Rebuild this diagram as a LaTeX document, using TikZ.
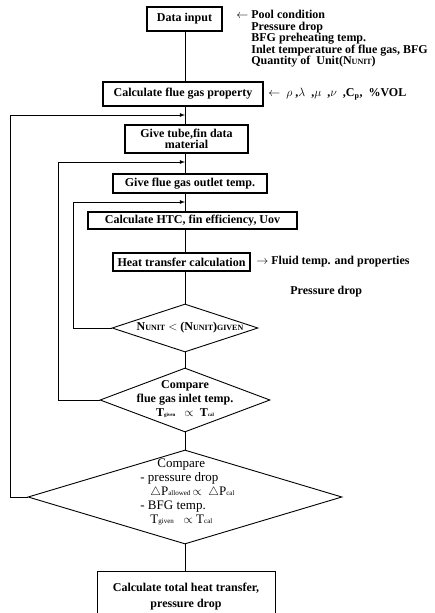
\documentclass[tikz,border=0pt]{standalone}
\usepackage{fontspec}
\setmainfont{Liberation Serif}
\usetikzlibrary{shapes.geometric}

\begin{document}
\begin{tikzpicture}[x=1pt,y=-1pt,line width=.8pt,
  every node/.style={font=\fontsize{12}{11.5}\selectfont\bfseries},
  box/.style={draw,line width=1.2pt,inner sep=1pt,align=center},
  dia/.style={draw,diamond,line width=.9pt,inner sep=0pt},
  side/.style={align=left,anchor=west,inner sep=0pt}]
\useasboundingbox (0,0) rectangle (434,613);
\coordinate (ax) at (185,0);
% main column
\node[box,minimum width=75,minimum height=24] (data) at (184.5,19) {Data input};
\node[box,minimum width=160,minimum height=24] (calc) at (183,94) {Calculate flue gas property};
\node[box,minimum width=123,minimum height=28,font=\fontsize{12}{10}\selectfont\bfseries] (tube) at (186.5,139) {Give tube,fin data\\material};
\node[box,minimum width=154,minimum height=19] (flue) at (190,183.5) {Give flue gas outlet temp.};
\node[box,minimum width=209,minimum height=17] (htc) at (192.5,220.5) {Calculate HTC, fin efficiency, Uov};
\node[box,minimum width=137,minimum height=18] (heat) at (181.5,262) {Heat transfer calculation};
\node[dia,minimum width=146,minimum height=48] (d1) at (185,328) {};
\node at (190,328) {N{\fontsize{8}{8}\selectfont UNIT} $<$ (N{\fontsize{8}{8}\selectfont UNIT}){\fontsize{8}{8}\selectfont GIVEN}};
\node[dia,minimum width=170,minimum height=64] (d2) at (185,400) {};
\node[align=center,font=\fontsize{12}{14}\selectfont\bfseries] at (185,399) {Compare\\flue gas inlet temp.\\T{\tiny given} \ \ $\propto$ \ T{\tiny cal}};
\node[dia,minimum width=314,minimum height=94] (d3) at (185,497) {};
\node[align=left,anchor=west,inner sep=0pt,font=\fontsize{13}{14}\selectfont] at (140,492) {\hspace{17pt}Compare\\- pressure drop\\\hspace{10pt}$\triangle$P{\scriptsize allowed}\,$\propto$\ \ $\triangle$P{\scriptsize cal}\\- BFG temp.\\\hspace{10pt}T{\scriptsize given} \ \ $\propto$ T{\scriptsize cal}};
\node[box,line width=.9pt,minimum width=178,minimum height=52,font=\fontsize{12}{16}\selectfont\bfseries] (total) at (186,597) {Calculate total heat transfer,\\pressure drop};
% side notes
\node[side,anchor=north west] (cond) at (236,10) {$\leftarrow$ Pool condition\\
  \hphantom{$\leftarrow$ }Pressure drop\\
  \hphantom{$\leftarrow$ }BFG preheating temp.\\
  \hphantom{$\leftarrow$ }Inlet temperature of flue gas, BFG\\
  \hphantom{$\leftarrow$ }Quantity of \ Unit(N{\fontsize{8}{8}\selectfont UNIT})};
\node[side] (prop) at (268,94) {$\leftarrow$\ \ $\rho$\ ,$\lambda$\ \ ,$\mu$\ \ ,$\nu$\ \ ,C\textsubscript{p}, \ \%VOL};
\node[side] (fluid) at (256,262) {$\rightarrow$\ Fluid temp. and properties};
\node[side] (pdrop) at (290,292) {Pressure drop};
% connectors
\draw (ax |- data.south) -- (ax |- calc.north)
      (ax |- calc.south) -- (ax |- tube.north)
      (ax |- tube.south) -- (ax |- flue.north)
      (ax |- flue.south) -- (ax |- htc.north)
      (ax |- htc.south) -- (ax |- heat.north)
      (ax |- heat.south) -- (d1.north)
      (d1.south) -- (d2.north)
      (d2.south) -- (d3.north)
      (d3.south) -- (ax |- total.north);
% loops back
\coordinate (j1) at (185,115);
\coordinate (j2) at (185,162);
\coordinate (j3) at (185,202);
\coordinate (l1) at (10,115);
\coordinate (l2) at (58,162);
\coordinate (l3) at (73,202);
\draw[-latex] (d3.west) -| (l1) -- (j1);
\draw[-latex] (d2.west) -| (l2) -- (j2);
\draw[-latex] (d1.west) -| (l3) -- (j3);
\end{tikzpicture}
\end{document}
